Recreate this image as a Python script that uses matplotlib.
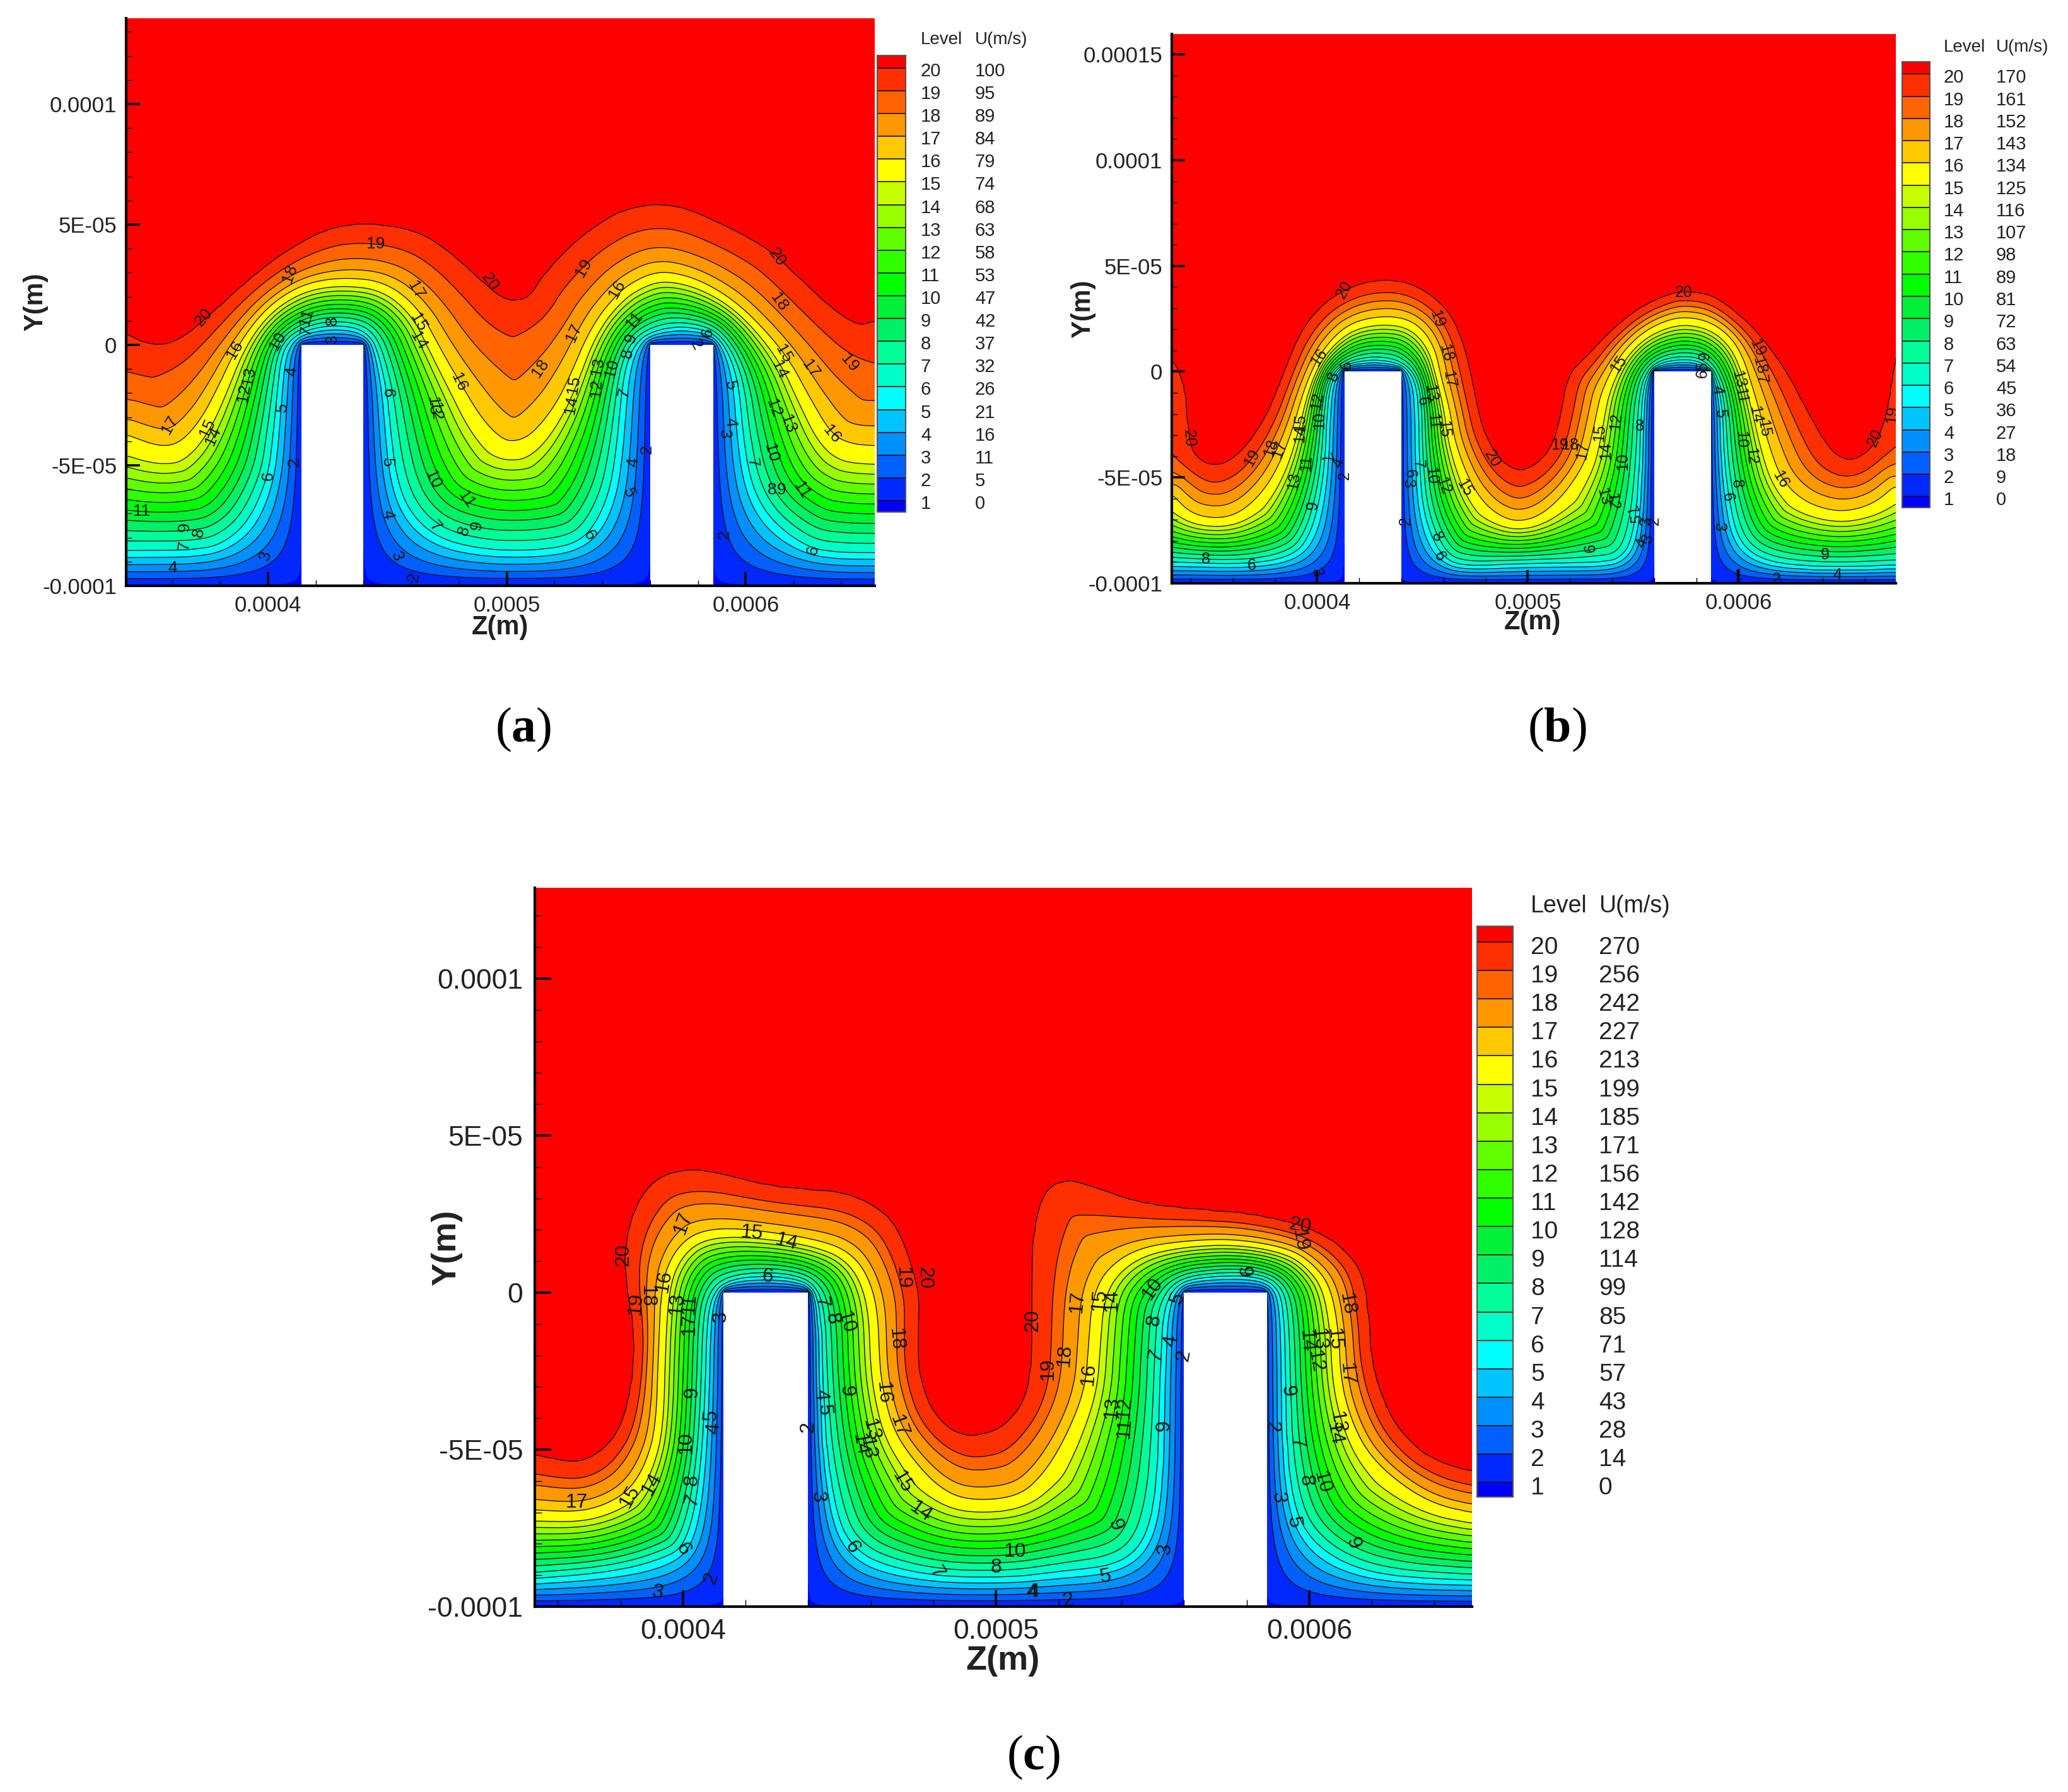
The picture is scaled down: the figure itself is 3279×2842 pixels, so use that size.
import numpy as np
import matplotlib
matplotlib.use("Agg")
import matplotlib.pyplot as plt
from matplotlib.path import Path
from matplotlib.patches import Rectangle

plt.rcParams['font.family'] = ['Liberation Sans', 'DejaVu Sans']
plt.rcParams['mathtext.fontset'] = 'custom'
plt.rcParams['mathtext.rm'] = 'Liberation Serif'
plt.rcParams['mathtext.bf'] = 'Liberation Serif:bold'

W, H = 3280, 2842

# ---------------------------------------------------------------- legend data
levels = list(range(1, 21))
u_a = [0, 5, 11, 16, 21, 26, 32, 37, 42, 47, 53, 58, 63, 68, 74, 79, 84, 89, 95, 100]
u_b = [0, 9, 18, 27, 36, 45, 54, 63, 72, 81, 89, 98, 107, 116, 125, 134, 143, 152, 161, 170]
u_c = [0, 14, 28, 43, 57, 71, 85, 99, 114, 128, 142, 156, 171, 185, 199, 213, 227, 242, 256, 270]
band_colors = ['#0000ff', '#0028ff', '#0060ff', '#0090ff', '#00c4ff', '#00ffff', '#00ffc8',
               '#00ff98', '#00f068', '#00f038', '#00ff00', '#30ff00', '#60ff00', '#98ff00',
               '#c8ff00', '#ffff00', '#ffc800', '#ff9800', '#ff6400', '#ff3000', '#ff0000']

# relative height of each level between wall (0) and level-20 contour (1), read in the trough
frac_a = [0.002, .032, .063, .095, .127, .158, .190, .222, .254, .285, .317, .349, .381, .413, .445, .506, .584, .686, .823, .997]
frac_b = [0.002, .034, .067, .101, .134, .168, .201, .235, .269, .302, .336, .369, .403, .436, .470, .543, .642, .741, .844, .997]
frac_c = [0.002, .040, .080, .120, .160, .200, .240, .280, .320, .360, .400, .440, .480, .520, .560, .630, .700, .796, .870, .997]

a20_z = [3.413, 3.484, 3.551, 3.618, 3.719, 3.887, 4.055, 4.224, 4.341, 4.476, 4.627, 4.745, 4.896, 4.980, 5.035, 5.097,
         5.139, 5.291, 5.442, 5.548, 5.632, 5.745, 5.897, 6.048, 6.132, 6.276, 6.397, 6.480, 6.533]
a20_y = [0.51, 0.13, 0.04, 0.19, 0.90, 2.44, 3.78, 4.74, 5.03, 5.03, 4.74, 4.04, 2.69, 1.99, 1.86, 2.05,
         2.82, 4.42, 5.45, 5.79, 5.87, 5.74, 5.06, 4.29, 3.72, 2.31, 1.28, 0.83, 1.03]
a16_z = [3.413, 3.551, 3.635, 3.719, 3.787, 3.862, 3.955, 4.055, 4.173, 4.324, 4.492, 4.632, 4.728, 4.803, 4.896, 4.98, 5.03,
         5.097, 5.182, 5.249, 5.352, 5.47, 5.564, 5.64, 5.73, 5.836, 5.958, 6.079, 6.185, 6.261, 6.359, 6.442, 6.533]
a16_y = [-3.72, -4.23, -4.04, -3.08, -1.79, -0.19, 1.15, 2.05, 2.63, 2.82, 2.63, 1.54, -0.26, -1.54, -3.08, -3.91, -4.01,
         -3.78, -2.82, -1.67, 0.77, 2.24, 2.82, 3.05, 2.95, 2.56, 1.79, 0.64, -0.64, -2.05, -3.72, -4.1, -4.17]
a6_z = [3.417, 3.719, 3.82, 3.921, 4.002, 4.022, 4.039, 4.055, 4.097, 4.173, 4.266, 4.375, 4.434, 4.467, 4.497, 4.513, 4.534,
        4.576, 4.661, 4.778, 4.98, 5.232, 5.344, 5.427, 5.458, 5.48, 5.503, 5.548, 5.624, 5.73, 5.844, 5.897, 5.942, 5.973,
        5.988, 6.018, 6.079, 6.17, 6.283, 6.427, 6.533]
a6_y = [-8.56, -8.53, -8.21, -7.31, -5.45, -3.72, -1.92, -0.38, 0.26, 0.64, 0.81, 0.71, 0.26, -0.64, -1.99, -3.72, -5.38,
        -6.67, -7.69, -8.27, -8.59, -8.46, -7.92, -6.28, -4.36, -1.79, -0.64, 0.19, 0.58, 0.77, 0.58, 0.13, -0.64, -1.79,
        -3.72, -5.64, -6.92, -7.82, -8.53, -8.65, -8.65]

b20_z = [3.316, 3.359, 3.381, 3.388, 3.402, 3.445, 3.514, 3.591, 3.677, 3.763, 3.832, 3.918, 4.021, 4.141, 4.261, 4.399,
         4.519, 4.622, 4.674, 4.716, 4.759, 4.794, 4.863, 4.948, 5.034, 5.112, 5.155, 5.189, 5.292, 5.379, 5.528, 5.677,
         5.736, 5.855, 5.945, 6.064, 6.153, 6.243, 6.332, 6.422, 6.496, 6.563, 6.645, 6.697, 6.72, 6.742]
b20_y = [0.69, -0.09, -1.0, -2.17, -3.6, -4.18, -4.42, -4.18, -3.34, -2.04, -0.35, 1.86, 3.16, 3.94, 4.32, 4.32,
         3.81, 2.90, 1.86, 0.56, -1.65, -2.95, -4.12, -4.70, -4.44, -3.6, -2.17, -0.09, 0.82, 1.79, 3.03, 3.68,
         3.78, 3.68, 3.16, 2.12, 1.08, -0.22, -1.91, -3.47, -4.12, -4.12, -3.47, -2.17, -0.48, 0.95]
b16_z = [3.316, 3.402, 3.522, 3.625, 3.729, 3.814, 3.883, 3.935, 4.003, 4.089, 4.175, 4.296, 4.416, 4.502, 4.562, 4.588, 4.631,
         4.656, 4.725, 4.794, 4.863, 4.948, 5.052, 5.155, 5.24, 5.283, 5.32, 5.349, 5.428, 5.528, 5.647, 5.751, 5.87, 5.96, 6.019,
         6.064, 6.109, 6.153, 6.206, 6.303, 6.422, 6.526, 6.645, 6.735]
b16_y = [-5.81, -6.71, -6.95, -6.71, -5.81, -4.51, -2.69, -0.87, 0.69, 1.79, 2.38, 2.64, 2.57, 2.05, 1.08, -0.22, -1.78,
         -3.34, -5.16, -6.19, -6.78, -7.1, -6.84, -5.94, -4.77, -3.86, -2.17, -0.87, 0.69, 1.79, 2.44, 2.64, 2.38, 1.73, 0.82,
         -0.61, -2.17, -3.73, -5.09, -6.06, -6.52, -6.58, -6.19, -5.42]
b6_z = [3.316, 3.694, 3.9, 3.969, 4.012, 4.038, 4.046, 4.072, 4.144, 4.27, 4.39, 4.459, 4.485, 4.485, 4.502, 4.584, 4.691, 4.948,
        5.289, 5.453, 5.513, 5.535, 5.542, 5.565, 5.632, 5.751, 5.826, 5.885, 5.923, 5.93, 5.952, 5.99, 6.064, 6.198, 6.422, 6.735]
b6_y = [-9.0, -9.12, -8.66, -7.62, -6.06, -4.12, -1.52, -0.22, 0.36, 0.56, 0.36, -0.22, -1.39, -4.12, -6.71, -8.73, -9.25, -9.06,
        -9.05, -8.92, -7.36, -4.12, -1.52, -0.22, 0.43, 0.56, 0.43, -0.22, -1.52, -4.12, -5.94, -7.75, -8.66, -9.12, -9.25, -9.18]

c20_z = [3.532, 3.638, 3.689, 3.753, 3.804, 3.836, 3.849, 3.843, 3.824, 3.813, 3.824, 3.868, 3.932, 4.022, 4.111, 4.239,
         4.367, 4.495, 4.597, 4.674, 4.719, 4.757, 4.751, 4.751, 4.789, 4.853, 4.917, 4.994, 5.033, 5.091, 5.112, 5.112,
         5.112, 5.148, 5.220, 5.292, 5.464, 5.651, 5.823, 5.996, 6.096, 6.168, 6.19, 6.197, 6.254, 6.341, 6.427, 6.517]
c20_y = [-5.15, -5.38, -5.33, -4.91, -4.26, -3.08, -1.89, -0.95, 0, 1.07, 2.13, 3.2, 3.79, 3.96, 3.85, 3.49,
         3.31, 3.25, 2.9, 2.31, 1.3, -0.12, -1.18, -2.49, -3.67, -4.38, -4.56, -4.38, -4.14, -3.43, -2.25, -0.47,
         1.89, 3.31, 3.67, 3.49, 2.84, 2.63, 2.49, 2.07, 1.54, 0.71, -0.71, -2.25, -3.91, -4.97, -5.44, -5.68]
c16_z = [3.532, 3.664, 3.753, 3.83, 3.881, 3.913, 3.919, 3.932, 3.971, 4.035, 4.137, 4.303, 4.431, 4.52, 4.584, 4.623, 4.629, 4.642,
         4.674, 4.738, 4.827, 4.917, 5.07, 5.148, 5.22, 5.284, 5.295, 5.306, 5.349, 5.45, 5.608, 5.766, 5.938, 6.01, 6.068, 6.096,
         6.103, 6.139, 6.197, 6.312, 6.412, 6.517]
c16_y = [-6.92, -6.98, -6.75, -6.27, -5.44, -4.26, -1.66, 0.36, 1.3, 1.89, 2.07, 1.89, 1.66, 1.36, 0.71, -0.47, -2.25, -3.2,
         -4.38, -5.33, -6.27, -6.63, -6.51, -5.8, -4.62, -3.08, -1.66, -0.24, 0.71, 1.42, 1.66, 1.72, 1.42, 0.95, 0.24, -1.18,
         -2.84, -4.14, -5.21, -6.21, -6.75, -6.98]
c6_z = [3.532, 3.728, 3.855, 3.945, 3.996, 4.035, 4.06, 4.073, 4.079, 4.105, 4.162, 4.267, 4.367, 4.412, 4.437, 4.444, 4.457, 4.495,
        4.543, 4.623, 4.812, 5.045, 5.205, 5.392, 5.478, 5.514, 5.522, 5.529, 5.543, 5.593, 5.708, 5.823, 5.895, 5.917, 5.924, 5.927,
        5.953, 6.01, 6.111, 6.254, 6.517]
c6_y = [-9.11, -8.93, -8.7, -8.4, -8.17, -7.1, -5.21, -2.84, -0.71, 0.06, 0.41, 0.53, 0.41, 0.12, -0.71, -2.84, -5.21, -7.34,
        -8.11, -8.64, -9.06, -9.09, -8.88, -8.7, -7.93, -6.39, -4.28, -1.66, -0.24, 0.36, 0.53, 0.53, 0.24, -0.47, -2.84, -5.21,
        -6.98, -7.93, -8.64, -9.05, -9.17]

# rib edges (z in 1e-4 m)
ribs_a = [(4.14, 4.40), (5.60, 5.865)]
ribs_b = [(4.13, 4.40), (5.60, 5.87)]
ribs_c = [(4.13, 4.40), (5.60, 5.865)]

# ---------------------------------------------------------------- contour labels: z, y, text, rotation
lab_a = [(3.73,1.15,'20',50),(4.45,4.19,'19',0),(4.09,2.95,'18',70),(4.93,2.63,'20',-55),(5.32,3.2,'19',60),(5.46,2.3,'16',60),
 (4.62,2.28,'17',-60),(4.63,.94,'15',-60),(4.63,.19,'14',-60),(4.16,1.15,'11',75),(4.16,.6,'7',80),(4.27,1.0,'8',90),(4.27,.25,'3',90),
 (4.04,.15,'10',60),(3.86,-.2,'16',60),(3.92,-1.3,'13',80),(3.9,-2.0,'12',80),(4.10,-1.1,'4',85),(4.06,-2.6,'5',85),(4.0,-5.45,'6',85),
 (4.11,-4.87,'2',90),(3.59,-3.33,'17',60),(3.745,-3.46,'15',65),(3.77,-3.78,'14',65),(3.47,-6.9,'11',0),(3.65,-7.56,'9',90),(3.71,-7.8,'8',80),
 (3.65,-8.33,'7',85),(3.6,-9.26,'4',0),(3.99,-8.74,'3',75),(4.5,-2.0,'6',-90),(4.5,-4.87,'5',-90),(4.5,-7.05,'4',-80),(4.54,-8.78,'3',-70),
 (4.61,-9.64,'2',80),(4.8,-1.54,'16',-65),(4.69,-2.55,'13',-85),(4.7,-2.75,'12',-85),(4.69,-5.58,'10',-65),(4.83,-6.41,'11',-55),(4.7,-7.54,'7',-50),
 (4.82,-7.72,'8',70),(4.875,-7.5,'9',80),(5.14,-.96,'18',55),(5.28,.51,'17',65),(5.28,-1.67,'15',80),(5.27,-2.5,'14',80),(5.38,-.9,'13',80),
 (5.374,-1.8,'12',85),(5.533,1.03,'11',50),(5.52,.26,'9',70),(5.506,-.35,'8',80),(5.44,-.96,'10',75),(5.49,-1.99,'7',75),(5.79,0,'2',-60),
 (5.84,.51,'6',80),(5.935,-1.67,'5',-80),(5.935,-3.2,'4',-85),(5.91,-3.7,'3',-85),(6.157,-.38,'15',-60),(6.14,-1.03,'14',-65),(6.27,-1,'17',-55),
 (6.117,-2.63,'12',-70),(6.177,-3.27,'13',-70),(6.36,-3.72,'16',-50),(6.106,-4.49,'10',-75),(6.026,-4.9,'7',-80),(6.11,-6.03,'8',0),(6.15,-6.03,'9',0),
 (6.233,-6.03,'11',-60),(5.91,-7.88,'2',90),(6.28,-8.53,'6',80),(6.14,1.79,'18',-55),(6.435,-.74,'19',-50),(5.51,-6.15,'5',-70),(5.53,-4.87,'4',85),
 (5.586,-4.33,'2',90),(5.344,-7.9,'6',-60),(6.13,3.65,'20',-55)]
lab_b = [(4.13,3.87,'20',60),(4.57,2.5,'19',-70),(4.61,.88,'18',-75),(4.625,-.35,'17',-80),(4.01,.69,'16',55),(4.14,.3,'6',80),(4.08,-.22,'8',70),
 (4.0,-1.39,'12',80),(4.01,-2.3,'10',90),(3.92,-2.43,'15',85),(3.92,-2.95,'14',85),(3.39,-3.14,'20',-85),(3.69,-4.09,'19',60),(3.78,-3.6,'18',70),
 (3.82,-3.66,'17',70),(3.95,-4.31,'11',85),(4.04,-4.1,'7',-70),(4.1,-4.31,'4',70),(4.13,-4.9,'2',90),(3.89,-5.16,'13',80),(3.98,-6.32,'9',85),
 (3.47,-8.86,'8',0),(3.69,-9.18,'6',0),(4.0,-9.5,'3',-70),(4.5,-1.39,'6',-85),(4.54,-1,'13',-80),(4.55,-2.36,'11',-85),(4.6,-2.7,'15',-85),
 (4.48,-4.38,'7',-85),(4.54,-4.9,'10',-85),(4.6,-5.4,'12',-70),(4.7,-5.48,'15',-60),(4.43,-5.3,'3',-85),(4.44,-4.83,'6',-85),(4.42,-7.04,'2',90),
 (4.57,-7.82,'8',-60),(4.58,-8.73,'6',-60),(4.83,-4.12,'20',-60),(5.15,-3.47,'19',0),(5.2,-3.47,'18',0),(5.26,-3.73,'17',80),(5.28,-8.4,'9',-85),
 (5.36,-5.9,'13',-75),(5.43,.36,'15',55),(5.42,-2.36,'12',85),(5.53,-2.58,'8',0),(5.34,-2.88,'15',85),(5.37,-3.73,'14',90),(5.45,-4.25,'10',90),
 (5.4,-6.13,'12',-85),(5.49,-6.58,'7',-60),(5.52,-6.97,'5',90),(5.6,-7.04,'2',90),(5.56,-7.04,'3',90),(5.54,-8.08,'4',70),(5.57,-7.88,'3',70),
 (5.84,.75,'9',85),(5.83,.23,'5',85),(5.83,-.09,'6',85),(6.09,1.14,'19',-65),(6.1,.3,'18',-75),(6.11,-.35,'7',-80),(6.0,-.35,'13',-75),(6.01,-1.13,'11',-80),
 (5.9,-.87,'4',-85),(5.915,-1.97,'5',-85),(6.08,-2.04,'14',-80),(6.12,-2.69,'15',-80),(6.01,-3.2,'10',-90),(6.06,-3.99,'12',-85),(5.99,-5.29,'8',-85),
 (5.95,-5.94,'6',-85),(5.91,-7.36,'3',-90),(6.2,-5.09,'16',-60),(6.0,-9.64,'1',0),(6.18,-9.83,'2',0),(6.47,-9.6,'4',0),(6.41,-8.66,'9',0),
 (6.65,-3.14,'20',65),(6.73,-2.04,'19',85),(5.74,3.74,'20',0)]
lab_c = [(3.81,1.21,'20',90),(4.0,2.22,'17',70),(4.22,1.89,'15',-5),(4.33,1.6,'14',-15),(4.27,.5,'6',-5),(3.85,-.36,'19',85),(3.885,-.12,'18',-90),
 (3.94,.36,'16',80),(3.98,-.36,'13',85),(4.02,-.36,'11',85),(4.02,-1.0,'17',90),(4.12,-.77,'3',90),(4.44,-.3,'7',-80),(4.475,-.83,'8',-80),(4.52,-.95,'10',-75),
 (4.77,.47,'20',-90),(4.7,.47,'19',-90),(4.68,-1.48,'18',-85),(4.03,-3.17,'9',90),(4.09,-3.9,'5',85),(4.1,-4.32,'4',85),(4.44,-3.25,'4',-85),(4.45,-3.73,'5',-85),
 (4.52,-3.14,'9',-90),(4.4,-4.28,'2',90),(4.64,-3.2,'16',-85),(4.69,-4.26,'17',-70),(4.6,-4.38,'13',-75),(4.565,-4.85,'14',-80),(4.59,-4.97,'13',-80),
 (4.01,-4.79,'10',90),(3.9,-6.09,'14',60),(3.83,-6.49,'15',60),(3.66,-6.69,'17',0),(4.03,-5.98,'8',85),(4.03,-6.63,'7',70),(4.7,-6.04,'15',-60),(4.76,-6.98,'14',-35),
 (4.0,-8.17,'6',-60),(4.54,-8.1,'6',-60),(4.09,-9.09,'2',70),(3.92,-9.56,'3',-10),(4.43,-6.5,'3',-85),(4.81,-8.9,'7',-60),(5.0,-8.76,'8',0),(5.06,-8.26,'10',0),
 (5.115,-9.53,'4',0),(5.116,-.89,'20',90),(5.165,-2.43,'19',90),(5.22,-2.01,'18',85),(5.26,-.3,'17',85),(5.33,-.24,'15',85),(5.37,-.24,'14',90),(5.295,-2.6,'16',85),
 (5.37,-3.67,'13',85),(5.41,-3.67,'12',85),(5.41,-4.32,'11',85),(5.52,-4.28,'6',-90),(5.5,.12,'10',55),(5.58,-.18,'5',70),(5.505,-.89,'8',80),(5.51,-2.01,'7',70),
 (5.56,-1.54,'4',80),(5.6,-2.01,'2',80),(5.79,.65,'9',-85),(5.97,2.13,'20',-10),(5.97,1.66,'19',-80),(6.12,-.36,'18',-80),(6.08,-1.48,'15',-85),(6.03,-1.48,'13',-85),
 (5.99,-1.54,'14',-85),(6.02,-2.19,'12',-80),(6.12,-2.6,'17',-85),(5.93,-3.14,'9',-85),(5.88,-4.28,'2',-90),(6.09,-4.14,'13',-80),(6.08,-4.5,'14',-80),(5.96,-4.79,'7',-80),
 (5.99,-5.98,'8',-85),(6.04,-6.04,'10',-75),(5.9,-6.53,'3',-85),(5.95,-7.31,'5',-80),(6.14,-7.99,'9',-70),(5.38,-7.4,'9',-70),(5.54,-8.17,'3',85),(5.35,-9.05,'5',10),
 (5.12,-9.53,'4',0),(5.23,-9.82,'2',10)]

y_ticks_ac = [1e-4, 5e-5, 0, -5e-5, -1e-4]
y_labels_ac = ['0.0001', '5E-05', '0', '-5E-05', '-0.0001']
y_ticks_b = [1.5e-4, 1e-4, 5e-5, 0, -5e-5, -1e-4]
y_labels_b = ['0.00015', '0.0001', '5E-05', '0', '-5E-05', '-0.0001']
x_ticks = [4e-4, 5e-4, 6e-4]
x_labels = ['0.0004', '0.0005', '0.0006']


def chaikin(z, y, n=2):
    p = np.column_stack([z, y])
    for _ in range(n):
        q = .75 * p[:-1] + .25 * p[1:]
        r = .25 * p[:-1] + .75 * p[1:]
        m = np.empty((2 * len(q), 2))
        m[0::2], m[1::2] = q, r
        p = np.vstack([p[:1], m, p[-1:]])
    return p


def curve_fields(c, Z, Y, xlim, ylim):
    """Mask of the side above a read-off contour, and distance to it."""
    p = chaikin(np.array(c[0]) * 1e-4, np.array(c[1]) * 1e-5)
    p = np.vstack([[xlim[0] - 1e-3, p[0, 1]], p, [xlim[1] + 1e-3, p[-1, 1]]])
    poly = np.vstack([p, [xlim[1] + 1e-3, ylim[1] + 1e-3], [xlim[0] - 1e-3, ylim[1] + 1e-3]])
    ins = Path(poly).contains_points(np.column_stack([Z.ravel(), Y.ravel()])).reshape(Z.shape)
    d2 = np.full(Z.shape, np.inf)
    for a, b in zip(p[:-1], p[1:]):
        ab = b - a
        t = np.clip(((Z - a[0]) * ab[0] + (Y - a[1]) * ab[1]) / (ab @ ab), 0, 1)
        d2 = np.minimum(d2, (Z - a[0] - t * ab[0]) ** 2 + (Y - a[1] - t * ab[1]) ** 2)
    return ins, np.sqrt(d2)


def blur(u):
    e = np.pad(u, 1, mode='edge')
    return (4 * e[1:-1, 1:-1] + 2 * (e[2:, 1:-1] + e[:-2, 1:-1] + e[1:-1, 2:] + e[1:-1, :-2])
            + e[2:, 2:] + e[2:, :-2] + e[:-2, 2:] + e[:-2, :-2]) / 16


def solve_field(c20, c16, c6, frac, ribs, xlim, ylim):
    """Field through the read-off contours of levels 6, 16 and 20 (z, y in metres)."""
    h = 1e-6
    zg = np.arange(xlim[0], xlim[1] + h, h)
    yg = np.arange(ylim[0], ylim[1] + h, h)
    Z, Y = np.meshgrid(zg, yg)
    in20, d20 = curve_fields(c20, Z, Y, xlim, ylim)
    in16, d16 = curve_fields(c16, Z, Y, xlim, ylim)
    in6, d6 = curve_fields(c6, Z, Y, xlim, ylim)
    wall = Y <= ylim[0] + h / 2
    for r0, r1 in ribs:
        wall |= (Z >= r0 * 1e-4) & (Z <= r1 * 1e-4) & (Y <= 0)
    f6, f16 = frac[5], frac[15]
    top = f16 + (1 - f16) * d16 / (d16 + d20 + 1e-12)
    mid = f6 + (f16 - f6) * d6 / (d6 + d16 + 1e-12)
    u = np.where(in16, top, mid)
    u[in20] = 1.02
    u[wall] = 0.0
    free = ~in6 & ~wall
    u[free] = f6 * .5
    ii, jj = np.indices(u.shape)
    black = ((ii + jj) % 2 == 0) & free
    white = ((ii + jj) % 2 == 1) & free
    om = 1.8
    for _ in range(400):
        for m in (black, white):
            e = np.pad(u, 1, mode='edge')
            r = .25 * (e[2:, 1:-1] + e[:-2, 1:-1] + e[1:-1, 2:] + e[1:-1, :-2]) - u
            u[m] += om * r[m]
    for _ in range(2):
        u = np.where(wall, 0.0, blur(u))
    return zg, yg, u


def axes_px(x0, x1, y_top, y_bot):
    return fig.add_axes([x0 / W, 1 - y_bot / H, (x1 - x0) / W, (y_bot - y_top) / H])


def panel(rect, xlim, ylim, c20, c16, c6, ribs, frac, labs, yt, yl, tick_fs, clab_fs, mlen, lw):
    ax = axes_px(*rect)
    ax.set_xlim(xlim)
    ax.set_ylim(ylim)
    z, y, u = solve_field(c20, c16, c6, frac, ribs, xlim, ylim)
    lv = [-1.0] + list(frac) + [2.0]
    ax.contourf(z, y, u, levels=lv, colors=band_colors, zorder=1, antialiased=False)
    ax.contour(z, y, u, levels=frac[1:], colors='#101010', linewidths=lw, zorder=1.2)
    for r0, r1 in ribs:
        ax.add_patch(Rectangle((r0 * 1e-4, ylim[0]), (r1 - r0) * 1e-4, -ylim[0], fc='white', ec='none', zorder=1.5))
    for zz, yy, t, rot in labs:
        ax.text(zz * 1e-4, yy * 1e-5, t, rotation=rot, ha='center', va='center', fontsize=clab_fs,
                color='#151515', zorder=2, clip_on=True)
    for s in ('top', 'right'):
        ax.spines[s].set_visible(False)
    for s in ('left', 'bottom'):
        ax.spines[s].set_linewidth(3)
    ax.set_axisbelow(False)
    ax.set_xticks(x_ticks, x_labels)
    ax.set_yticks(yt, yl)
    mnx = np.arange(3.2, 6.9, .2) * 1e-4
    ax.set_xticks(mnx[(mnx > xlim[0]) & (mnx < xlim[1])], minor=True)
    mny = np.arange(-10, 16, 1.0) * 1e-5
    ax.set_yticks(mny[(mny > ylim[0]) & (mny < ylim[1])], minor=True)
    ax.tick_params(which='major', direction='in', length=mlen, width=2.6, labelsize=tick_fs,
                   labelcolor='#222222', pad=tick_fs * .42)
    ax.tick_params(which='minor', direction='in', length=mlen * .42, width=1)
    return ax


def legend(rect, us, lx, ux, fs, head_y, head_fs, yoff):
    ax = axes_px(*rect)
    lo, hi = .5, 20.55
    edges = [lo] + levels + [hi]
    ax.set_xlim(0, 1)
    ax.set_ylim(lo, hi)
    for i, c in enumerate(band_colors):
        ax.barh(edges[i], 1, height=edges[i + 1] - edges[i], left=0, align='edge', color=c, lw=0)
    ax.hlines(levels, 0, 1, color='#101010', lw=1.2)
    ax.set_xticks([])
    ax.set_yticks([])
    for s in ax.spines.values():
        s.set_color('#555555')
        s.set_linewidth(1.5)
    x0, x1 = rect[0], rect[1]
    for lev, u in zip(levels, us):
        yy = lev - yoff
        ax.text((lx - x0) / (x1 - x0), yy, str(lev), fontsize=fs, va='center', ha='left', color='#222222', clip_on=False)
        ax.text((ux - x0) / (x1 - x0), yy, str(u), fontsize=fs, va='center', ha='left', color='#222222', clip_on=False)
    fig.text(lx / W, 1 - head_y / H, 'Level', fontsize=head_fs, va='center', ha='left', color='#222222')
    fig.text(ux / W, 1 - head_y / H, 'U(m/s)', fontsize=head_fs, va='center', ha='left', color='#222222')


fig = plt.figure(figsize=(W / 100, H / 100), dpi=100, facecolor='white')

panel((200, 1387, 29, 929), (3.406e-4, 6.54e-4), (-1e-4, 1.356e-4), (a20_z, a20_y), (a16_z, a16_y), (a6_z, a6_y),
      ribs_a, frac_a, lab_a, y_ticks_ac, y_labels_ac, 25, 19, 16, .95)
legend((1391, 1436, 88, 812), u_a, 1460, 1546, 21, 63, 20, .14)
panel((1858, 3006, 54, 925), (3.31e-4, 6.747e-4), (-1e-4, 1.596e-4), (b20_z, b20_y), (b16_z, b16_y), (b6_z, b6_y),
      ribs_b, frac_b, lab_b, y_ticks_b, y_labels_b, 25, 18, 15, .9)
legend((3016, 3060, 98, 805), u_b, 3082, 3165, 21, 75, 20, .17)
panel((848, 2334, 1408, 2548), (3.527e-4, 6.52e-4), (-1e-4, 1.289e-4), (c20_z, c20_y), (c16_z, c16_y), (c6_z, c6_y),
      ribs_c, frac_c, lab_c, y_ticks_ac, y_labels_ac, 32, 23, 19, 1.0)
legend((2342, 2399, 1469, 2374), u_c, 2427, 2535, 28, 1437, 27, .2)

# axis titles
for x, y, s, fs in [(793, 995, 'Z(m)', 30), (2430, 987, 'Z(m)', 30), (1590, 2634, 'Z(m)', 39)]:
    fig.text(x / W, 1 - y / H, s, fontsize=fs, fontweight='bold', ha='center', va='center', color='#222222')
for x, y, s, fs in [(56, 479, 'Y(m)', 30), (1717, 490, 'Y(m)', 30), (708, 1979, 'Y(m)', 39)]:
    fig.text(x / W, 1 - y / H, s, fontsize=fs, fontweight='bold', rotation=90, ha='center', va='center', color='#222222')

# sub-figure captions
for x, y, s in [(830, 1157, r'($\mathbf{a}$)'), (2469, 1157, r'($\mathbf{b}$)'), (1638, 2787, r'($\mathbf{c}$)')]:
    fig.text(x / W, 1 - y / H, s, fontsize=56, family='Liberation Serif', ha='center', va='center', color='black')

fig.savefig('out.png', dpi=100)
